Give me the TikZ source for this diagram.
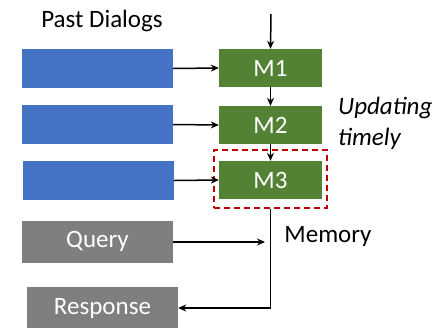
\documentclass[tikz,border=0pt]{standalone}
\usepackage{fontspec}
\setmainfont{Carlito}
\usetikzlibrary{arrows.meta}
\definecolor{pblue}{HTML}{4472C4}
\definecolor{pgreen}{HTML}{548235}
\definecolor{pgray}{HTML}{7F7F7F}
\definecolor{pred}{HTML}{C00000}
\tikzset{
  dlg/.style={fill=pblue, draw=none, minimum width=151pt, minimum height=39pt, inner sep=0pt},
  mem/.style={fill=pgreen, draw=none, minimum width=103pt, minimum height=38pt, inner sep=0pt, text=white, font=\fontsize{25}{29}\selectfont},
  gbox/.style={fill=pgray, draw=none, minimum width=151pt, minimum height=42pt, inner sep=0pt, text=white, font=\fontsize{25}{29}\selectfont},
  lbl/.style={font=\fontsize{25}{29}\selectfont, inner sep=0pt},
  arr/.style={line width=1.5pt, -{Stealth[length=8pt,width=7pt]}},
}
\begin{document}
\begin{tikzpicture}[x=1pt,y=-1pt]
\useasboundingbox (0,0) rectangle (434,327);
\node[lbl] (title) at (102,21) {Past Dialogs};
\node[dlg] (b1) at (97.5,68.5) {};
\node[dlg] (b2) at (97.5,124.5) {};
\node[dlg] (b3) at (98.5,180.5) {};
\node[mem] (m1) at (270.5,68) {M1};
\node[mem] (m2) at (270.5,125) {M2};
\node[mem] (m3) at (270.5,180) {M3};
\node[draw=pred, dashed, dash pattern=on 6pt off 4pt, line width=1.8pt, minimum width=113pt, minimum height=58pt, inner sep=0pt] (red) at (270.5,179) {};
\node[gbox] (query) at (97.5,241.5) {Query};
\node[gbox] (resp) at (102.5,308) {Response};
\node[lbl] (memlbl) at (328,236) {Memory};
\node[lbl, anchor=west, align=left, font=\fontsize{25}{31}\selectfont\itshape] (upd) at (338,123) {Updating\\timely};
\coordinate (top) at (271,14);
\coordinate (qend) at (265,242);
\draw[arr] (top) -- (m1.north);
\draw[arr] (b1.east) -- (m1.west);
\draw[arr] (b2.east) -- (m2.west);
\draw[arr] (b3.east) -- (m3.west);
\draw[arr] (m1.south) -- (m2.north);
\draw[arr] (m2.south) -- (m3.north);
\draw[arr] (query.east |- qend) -- (qend);
\draw[arr] (red.south) |- (resp.east);
\end{tikzpicture}
\end{document}
